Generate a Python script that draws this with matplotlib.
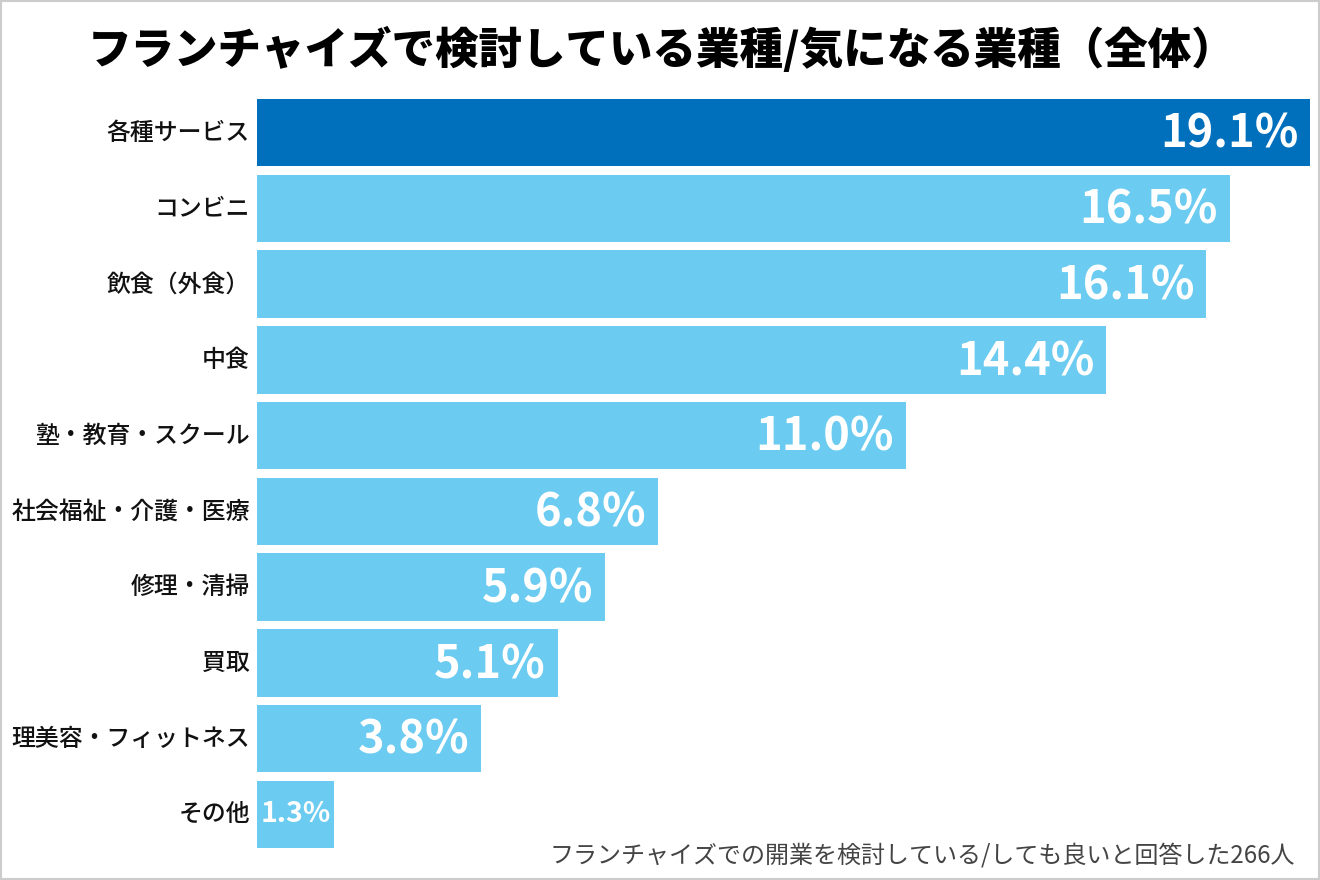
import matplotlib.pyplot as plt
from matplotlib.patches import Rectangle

plt.rcParams['font.family'] = ['Noto Sans CJK JP', 'DejaVu Sans']

categories = ['各種サービス', 'コンビニ', '飲食（外食）', '中食', '塾・教育・スクール',
              '社会福祉・介護・医療', '修理・清掃', '買取', '理美容・フィットネス', 'その他']
values = [19.1, 16.5, 16.1, 14.4, 11.0, 6.8, 5.9, 5.1, 3.8, 1.3]
labels = ['19.1%', '16.5%', '16.1%', '14.4%', '11.0%', '6.8%', '5.9%', '5.1%', '3.8%', '1.3%']

dark = '#0070bd'
light = '#6ccbf0'

fig = plt.figure(figsize=(13.2, 8.8), dpi=100, facecolor='white')
ax = fig.add_axes([257/1320, 1 - 848/880, (1310-257)/1320, (848-99)/880])

y = list(range(len(values)))
colors = [dark] + [light] * (len(values) - 1)
ax.barh(y, values, height=0.89, color=colors, edgecolor='none')
ax.set_xlim(0, 17.86)
ax.set_ylim(len(values) - 0.555, -0.445)
ax.axis('off')

# category labels
for yi, cat in zip(y, categories):
    ax.text(-0.12, yi, cat, ha='right', va='center', fontsize=17.2,
            fontweight='medium', color='#111111')

# value labels inside bars
for yi, v, lab in zip(y, values, labels):
    xe = min(v, 17.86)
    if v < 2:
        ax.text(xe / 2, yi, lab, ha='center', va='center', fontsize=20.5,
                fontweight='bold', color='white')
    else:
        ax.text(xe - 0.2, yi + 0.03, lab, ha='right', va='center', fontsize=32.5,
                fontweight='bold', color='white')

fig.text(662/1320, 1 - 50/880, 'フランチャイズで検討している業種/気になる業種（全体）',
         ha='center', va='center', fontsize=31.3, fontweight='black', color='black')

fig.text(1295/1320, 1 - 855/880, 'フランチャイズでの開業を検討している/しても良いと回答した266人',
         ha='right', va='center', fontsize=17.3, color='#444444')

# thin frame around the image
fig.patches.append(Rectangle((0.0008, 0.0011), 0.9984, 0.9978, transform=fig.transFigure,
                             fill=False, edgecolor='#cccccc', linewidth=1.5))

fig.savefig('out.png', dpi=100, facecolor='white')
